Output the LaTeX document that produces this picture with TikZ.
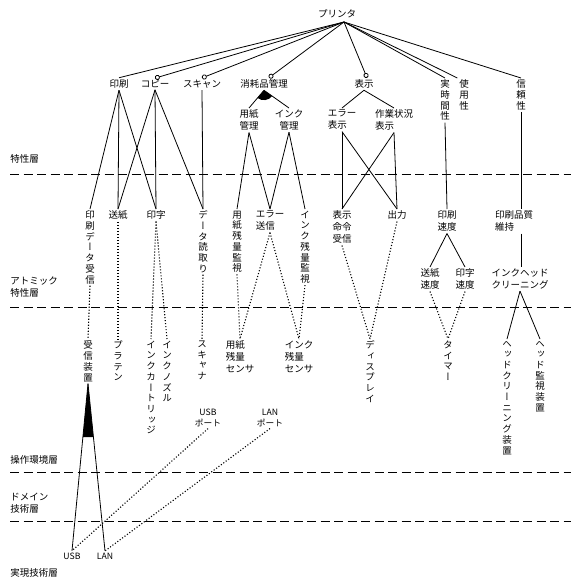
\documentclass[tikz,border=0pt]{standalone}
\usepackage{fontspec}
\setmainfont{Noto Sans CJK JP}
\newfontfamily\tatefont[RawFeature=+vert]{Noto Sans CJK JP}
\usepackage{tikz}
\usetikzlibrary{arrows.meta,calc}
\newcommand\yokosize{\fontsize{9.5}{12}\selectfont}
\newcommand\tatesize{\tatefont\fontsize{9.5}{10.7}\selectfont}
\newcommand\portsize{\fontsize{8.7}{10.5}\selectfont}

\begin{document}
\begin{tikzpicture}[x=1pt, y=-1pt, line width=0.8pt,
  every node/.style={font=\yokosize, align=center, inner sep=1.5pt},
  tate/.style={anchor=north, font=\tatesize},
  hidari/.style={align=left},
  layer/.style={anchor=west, align=left},
  layerline/.style={dash pattern=on 9pt off 4.5pt},
  impl/.style={line width=1.1pt, dash pattern=on 1.1pt off 1.9pt},
  opt/.style={-{Circle[open, length=5pt, width=5pt]}}]
  \useasboundingbox (0,0) rectangle (571,578);

  % layers
  \node[layer] (tokusei) at (8.5,159) {特性層};
  \node[layer] (atomic) at (8.5,287) {アトミック\\特性層};
  \node[layer] (sousa) at (8.5,460) {操作環境層};
  \node[layer] (domain) at (8.5,503) {ドメイン\\技術層};
  \node[layer] (jitsugen) at (8.5,573) {実現技術層};
  \draw[layerline] (10,174) -- (571,174);
  \draw[layerline] (10,307) -- (571,307);
  \draw[layerline] (10,472) -- (571,472);
  \draw[layerline] (10,521) -- (571,521);

  % capability layer
  \node (printer) at (337,14) {プリンタ};
  \coordinate (hub) at (344,22);
  \node (insatsu) at (119,84) {印刷};
  \node (kopii) at (155,84) {コピー};
  \node (scan) at (202,84) {スキャン};
  \node (shoumou) at (264,84) {消耗品管理};
  \node (hyouji) at (364,84) {表示};
  \node[tate] (jiji) at (445,78) {実\\時\\間\\性};
  \node[tate] (shiyou) at (464,78) {使\\用\\性};
  \node[tate] (shinrai) at (521,78) {信\\頼\\性};
  \node[anchor=north] (youshikanri) at (249,108) {用紙\\管理};
  \node[anchor=north] (inkkanri) at (289,108) {インク\\管理};
  \node[anchor=north, hidari] (errhyouji) at (342,108) {エラー\\表示};
  \node[anchor=north, hidari] (sagyou) at (394,108) {作業状況\\表示};

  % atomic layer
  \node[tate] (jushin) at (90,209) {印\\刷\\デ\\ー\\タ\\受\\信};
  \node[anchor=north] (soushi) at (118,209) {送紙};
  \node[anchor=north] (inji) at (156,209) {印字};
  \node[tate] (yomitori) at (203,209) {デ\\ー\\タ\\読\\取\\り};
  \node[tate] (zanryouy) at (237,209) {用\\紙\\残\\量\\監\\視};
  \node[anchor=north, hidari] (errsoushin) at (270,209) {エラー\\送信};
  \node[tate] (zanryoui) at (305,209) {イ\\ン\\ク\\残\\量\\監\\視};
  \node[anchor=north] (meirei) at (342,209) {表示\\命令\\受信};
  \node[anchor=north] (shutsuryoku) at (397,209) {出力};
  \node[anchor=north] (sokudo) at (447,209) {印刷\\速度};
  \node[anchor=north, hidari] (hinshitsu) at (514,209) {印刷品質\\維持};
  \node[anchor=north] (soushisokudo) at (430,267) {送紙\\速度};
  \node[anchor=north] (injisokudo) at (465,267) {印字\\速度};
  \node[anchor=north] (cleaning) at (520,267) {インクヘッド\\クリーニング};

  % implementation layer
  \node[tate] (jushinsouchi) at (88,339) {受\\信\\装\\置};
  \node[tate] (platen) at (118,339) {プ\\ラ\\テ\\ン};
  \node[tate] (cartridge) at (151,339) {イ\\ン\\ク\\カ\\ー\\ト\\リ\\ッ\\ジ};
  \node[tate] (nozzle) at (167,339) {イ\\ン\\ク\\ノ\\ズ\\ル};
  \node[tate] (scanner) at (202,339) {ス\\キ\\ャ\\ナ};
  \node[anchor=north, hidari] (sensory) at (240,339) {用紙\\残量\\センサ};
  \node[anchor=north, hidari] (sensori) at (299,339) {インク\\残量\\センサ};
  \node[tate] (display) at (370,339) {デ\\ィ\\ス\\プ\\レ\\イ};
  \node[tate] (timer) at (448,339) {タ\\イ\\マ\\ー};
  \node[tate] (headclean) at (507,339) {ヘ\\ッ\\ド\\ク\\リ\\ー\\ニ\\ン\\グ\\装\\置};
  \node[tate] (headmon) at (540,339) {ヘ\\ッ\\ド\\監\\視\\装\\置};
  \node[font=\portsize] (usbport) at (208,418) {USB\\ポート};
  \node[font=\portsize] (lanport) at (270,418) {LAN\\ポート};
  \node[font=\portsize] (usb) at (72,556) {USB};
  \node[font=\portsize] (lan) at (105,556) {LAN};

  % printer decomposition
  \draw (hub) -- (insatsu.north);
  \draw[opt] (hub) -- (kopii.north);
  \draw[opt] (hub) -- (scan.north);
  \draw[opt] (hub) -- ([xshift=5pt]shoumou.north);
  \draw[opt] (hub) -- ([xshift=3pt]hyouji.north);
  \draw (hub) -- (jiji.north);
  \draw (hub) -- (shiyou.north west);
  \draw (hub) -- (shinrai.north);

  \draw (shoumou.south) -- (youshikanri.north);
  \draw (shoumou.south) -- (inkkanri.north);
  \fill (shoumou.south) -- ($(shoumou.south)!10pt!(youshikanri.north)$) to[bend right=45] ($(shoumou.south)!10pt!(inkkanri.north)$) -- cycle;
  \draw (hyouji.south) -- (errhyouji.north);
  \draw (hyouji.south) -- (sagyou.north);

  % capability to atomic
  \draw (insatsu.south) -- (jushin.north);
  \draw (insatsu.south) -- (soushi.north);
  \draw (insatsu.south) -- (inji.north);
  \draw (kopii.south) -- (soushi.north);
  \draw (kopii.south) -- (inji.north);
  \draw (kopii.south) -- (yomitori.north);
  \draw (scan.south) -- (yomitori.north);
  \draw (youshikanri.south) -- (zanryouy.north);
  \draw (youshikanri.south) -- (errsoushin.north);
  \draw (inkkanri.south) -- (errsoushin.north);
  \draw (inkkanri.south) -- (zanryoui.north);
  \draw (errhyouji.south) -- (meirei.north);
  \draw (errhyouji.south) -- (shutsuryoku.north);
  \draw (sagyou.south) -- (meirei.north);
  \draw (sagyou.south) -- (shutsuryoku.north);
  \draw (jiji.south) -- (sokudo.north);
  \draw (shinrai.south) -- (shinrai.south |- hinshitsu.north);
  \draw (sokudo.south) -- (soushisokudo.north);
  \draw (sokudo.south) -- (injisokudo.north);
  \draw (hinshitsu.south -| shinrai.south) -- (shinrai.south |- cleaning.north);

  % atomic to implementation
  \draw[impl] (jushin.south) -- (jushinsouchi.north);
  \draw[impl] (soushi.south) -- (platen.north);
  \draw[impl] (inji.south) -- (cartridge.north);
  \draw[impl] (inji.south) -- (nozzle.north);
  \draw[impl] (yomitori.south) -- (scanner.north);
  \draw[impl] (zanryouy.south) -- (sensory.north);
  \draw[impl] (errsoushin.south) -- (sensory.north);
  \draw[impl] (errsoushin.south) -- (sensori.north);
  \draw[impl] (zanryoui.south) -- (sensori.north);
  \draw[impl] (meirei.south) -- (display.north);
  \draw[impl] (shutsuryoku.south) -- (display.north);
  \draw[impl] (soushisokudo.south) -- (timer.north);
  \draw[impl] (injisokudo.south) -- (timer.north);
  \draw (cleaning.south) -- (headclean.north);
  \draw (cleaning.south) -- (headmon.north);

  % receiver alternatives
  \draw (jushinsouchi.south) -- (usb.north);
  \draw (jushinsouchi.south) -- (lan.north);
  \fill (jushinsouchi.south) -- ($(jushinsouchi.south)!0.32!(usb.north)$) -- ($(jushinsouchi.south)!0.32!(lan.north)$) -- cycle;
  \draw[impl] (usbport.south) -- (usb.north);
  \draw[impl] (lanport.south) -- (lan.north);
\end{tikzpicture}
\end{document}
